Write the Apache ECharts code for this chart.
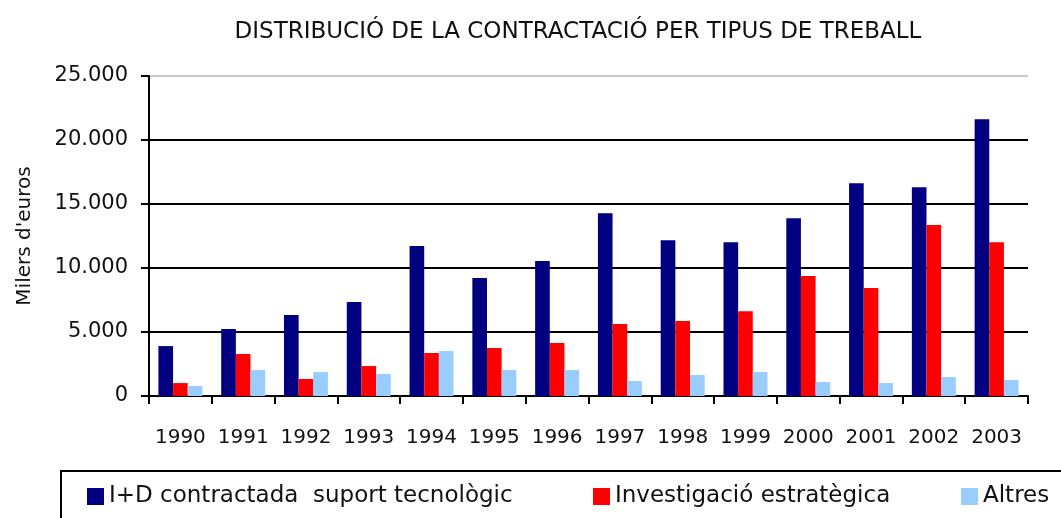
<!DOCTYPE html>
<html>
<head>
<meta charset="utf-8">
<script src="https://cdn.jsdelivr.net/npm/echarts@6/dist/echarts.min.js"></script>
<style>
  html, body { margin: 0; padding: 0; background: #fff; }
  #chart { width: 1061px; height: 518px; }
</style>
</head>
<body>
<div id="chart"></div>
<script>
var years = ['1990','1991','1992','1993','1994','1995','1996','1997','1998','1999','2000','2001','2002','2003'];
var suportTecnologic = [3900, 5230, 6320, 7340, 11710, 9210, 10540, 14280, 12170, 12020, 13890, 16620, 16310, 21620];
var investigacioEstrategica = [1010, 3280, 1330, 2340, 3360, 3750, 4140, 5620, 5850, 6630, 9370, 8430, 13350, 12020];
var altres = [780, 2030, 1870, 1720, 3510, 2030, 2030, 1170, 1640, 1870, 1090, 1010, 1480, 1250];
var yTicks = [0, 5000, 10000, 15000, 20000, 25000];
var seriesNames = ['I+D contractada  suport tecnològic', 'Investigació estratègica', 'Altres'];

var font = 'DejaVu Sans';
var myChart = echarts.init(document.getElementById('chart'));

function milers(v) {
	return String(v).replace(/\B(?=(\d{3})+(?!\d))/g, '.');
}

// una llegenda per element, per col·locar-los com a l'original
function llegenda(i, left, extra) {
	var l = {
		left: left,
		top: 471,
		padding: [14, 0, 40, 0],
		itemWidth: 17,
		itemHeight: 17,
		icon: 'rect',
		data: [seriesNames[i]],
		textStyle: { fontFamily: font, fontSize: 23, color: '#111' }
	};
	if (extra) {
		for (var k in extra) l[k] = extra[k];
	}
	return l;
}

var option = {
	backgroundColor: '#fff',
	animation: false,
	title: {
		text: 'DISTRIBUCIÓ DE LA CONTRACTACIÓ PER TIPUS DE TREBALL',
		left: 573,
		textAlign: 'center',
		top: 16,
		textStyle: { fontFamily: font, fontSize: 23, fontWeight: 'normal', color: '#111' }
	},
	legend: [
		llegenda(0, 61, { padding: [14, 640, 40, 26], borderColor: '#000', borderWidth: 2 }),
		llegenda(1, 593),
		llegenda(2, 961)
	],
	grid: { left: 149, right: 33, top: 76, bottom: 122, containLabel: false },
	xAxis: {
		type: 'category',
		data: years,
		axisLine: { lineStyle: { color: '#000', width: 2 } },
		axisTick: { show: true, length: 8, lineStyle: { color: '#000', width: 2 } },
		axisLabel: { interval: 0, fontFamily: font, fontSize: 20, color: '#111', margin: 32 }
	},
	yAxis: {
		type: 'value',
		min: 0,
		max: yTicks[yTicks.length - 1],
		interval: yTicks[1] - yTicks[0],
		name: "Milers d'euros",
		nameLocation: 'middle',
		nameGap: 114,
		nameTextStyle: { fontFamily: font, fontSize: 20, color: '#111' },
		axisLine: { show: true, lineStyle: { color: '#000', width: 2 } },
		axisTick: { show: true, length: 8, lineStyle: { color: '#000', width: 2 } },
		axisLabel: { fontFamily: font, fontSize: 21, color: '#111', margin: 21, formatter: milers },
		splitLine: { show: true, lineStyle: { color: ['#000', '#000', '#000', '#000', '#000', '#c8c8c8'], width: 2 } }
	},
	series: [
		{
			name: seriesNames[0],
			type: 'bar',
			barGap: 0,
			barCategoryGap: '30%',
			itemStyle: { color: '#000080' },
			data: suportTecnologic
		},
		{
			name: seriesNames[1],
			type: 'bar',
			itemStyle: { color: '#ff0000' },
			data: investigacioEstrategica
		},
		{
			name: seriesNames[2],
			type: 'bar',
			itemStyle: { color: '#99ccff' },
			data: altres
		}
	]
};
myChart.setOption(option);
</script>
</body>
</html>
